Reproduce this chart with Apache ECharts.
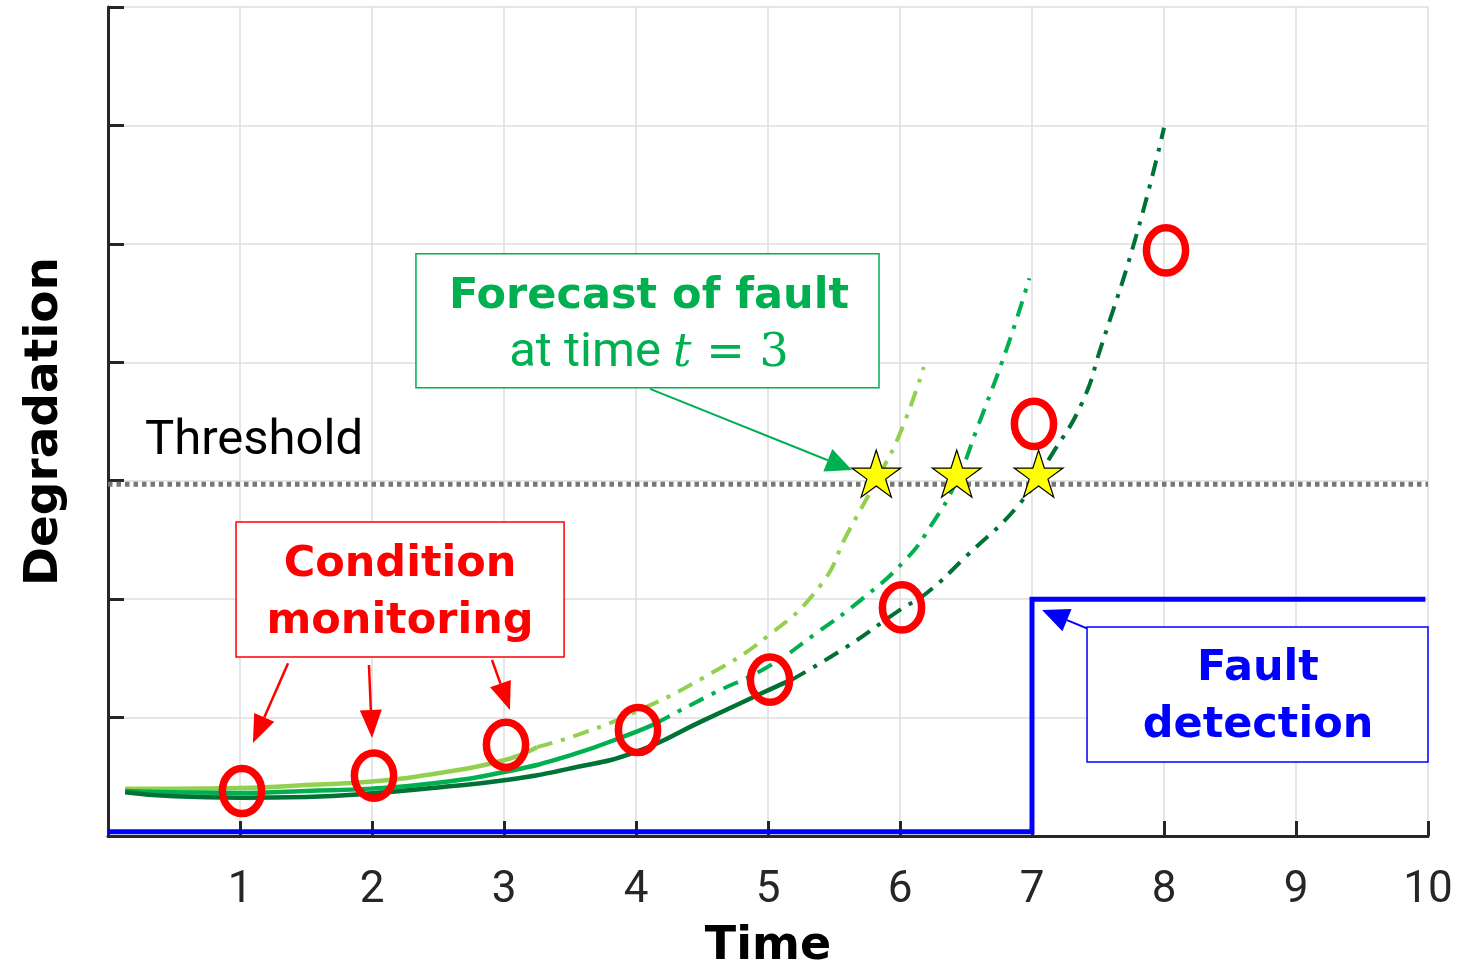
<!DOCTYPE html>
<html>
<head>
<meta charset="utf-8">
<script src="https://cdn.jsdelivr.net/npm/echarts@6/dist/echarts.min.js"></script>
<style>
  html, body { margin: 0; padding: 0; background: #ffffff; }
  #chart { width: 1463px; height: 964px; }
</style>
</head>
<body>
<div id="chart"></div>
<script>
// ---- axis ticks ----
const timeTicks = [0, 1, 2, 3, 4, 5, 6, 7, 8, 9, 10];
const timeTickLabels = ['', '1', '2', '3', '4', '5', '6', '7', '8', '9', '10'];
const levelRange = [0, 7];

// ---- condition monitoring samples ----
const sampleTime = [1, 2, 3, 4, 5, 6, 7, 8];
const sampleLevel = [0.38, 0.51, 0.77, 0.895, 1.32, 1.93, 3.48, 4.945];

// ---- degradation model fitted up to t = 3 (solid) and its forecast (dash-dot) ----
const fitT3Time = [0.13, 0.5, 1, 1.5, 2, 2.5, 3, 3.25];
const fitT3Level = [0.40, 0.40, 0.405, 0.43, 0.46, 0.53, 0.64, 0.75];
const forecastT3Time = [3.25, 3.6, 4, 4.5, 5, 5.4, 5.6, 5.82, 6.0, 6.18];
const forecastT3Level = [0.75, 0.87, 1.05, 1.33, 1.69, 2.12, 2.55, 3.0, 3.4, 3.96];

// ---- model fitted up to t = 4 ----
const fitT4Time = [0.13, 0.5, 1, 1.5, 2, 2.5, 3, 3.5, 4, 4.15];
const fitT4Level = [0.38, 0.37, 0.363, 0.38, 0.40, 0.45, 0.54, 0.68, 0.88, 0.95];
const forecastT4Time = [4.15, 4.56, 5, 5.35, 5.7, 6.04, 6.24, 6.43, 6.58, 6.81, 6.98];
const forecastT4Level = [0.95, 1.19, 1.43, 1.7, 1.99, 2.33, 2.63, 3.0, 3.43, 4.12, 4.71];

// ---- model fitted up to t = 5 ----
const fitT5Time = [0.13, 0.5, 1, 1.5, 2, 2.5, 3, 3.5, 4, 4.5, 5, 5.18];
const fitT5Level = [0.37, 0.335, 0.323, 0.33, 0.36, 0.41, 0.47, 0.57, 0.71, 0.97, 1.23, 1.32];
const forecastT5Time = [5.18, 5.6, 6.0, 6.2, 6.5, 6.91, 7.15, 7.38, 7.52, 7.79, 8.0];
const forecastT5Level = [1.32, 1.6, 1.91, 2.05, 2.36, 2.81, 3.22, 3.66, 4.12, 5.07, 5.98];

// ---- predicted threshold crossings ----
const crossingTime = [5.82, 6.43, 7.05];
const crossingLevel = [3.06, 3.06, 3.06];

// ---- threshold and fault detection signal ----
const thresholdTime = [0, 10];
const thresholdLevel = [2.97, 2.97];
const faultTime = [0, 7, 7, 9.98];
const faultLevel = [0.036, 0.036, 2, 2];

const zip = (xs, ys) => xs.map((x, i) => [x, ys[i]]);

const AXIS_COLOR = '#262626';
const GRID_COLOR = '#dedede';
const LIGHT = '#92d050', MID = '#00b050', DARK = '#007236';
const DASH_DOT = [16, 9, 4, 9];

// five-pointed star used for the crossing markers
function starPath() {
  const pts = [];
  for (let i = 0; i < 10; i++) {
    const r = i % 2 ? 0.382 : 1;
    const a = -Math.PI / 2 + i * Math.PI / 5;
    pts.push((r * Math.cos(a)).toFixed(4) + ' ' + (r * Math.sin(a)).toFixed(4));
  }
  return 'path://M' + pts.join(' L') + ' Z';
}

function curve(name, xs, ys, color, dashed, z) {
  return {
    name, type: 'line', data: zip(xs, ys), symbol: 'none', smooth: 0.5, z,
    lineStyle: { color, width: dashed ? 4 : 4.5, type: dashed ? DASH_DOT : 'solid', cap: 'butt' },
    emphasis: { disabled: true }
  };
}

// hollow red ellipse for each monitoring sample
function renderSample(params, api) {
  const p = api.coord([api.value(0), api.value(1)]);
  return {
    type: 'ellipse',
    shape: { cx: p[0] + 2, cy: p[1], rx: 19.6, ry: 22.6 },
    style: { fill: 'none', stroke: '#ff0000', lineWidth: 7.5 }
  };
}

const option = {
  animation: false,
  backgroundColor: '#ffffff',
  grid: { left: 108, right: 35, top: 7, bottom: 128, containLabel: false, outerBoundsMode: 'none' },
  xAxis: {
    type: 'value', min: timeTicks[0], max: timeTicks[timeTicks.length - 1], interval: 1,
    name: 'Time', nameLocation: 'middle', nameGap: 88,
    nameTextStyle: { fontFamily: 'DejaVu Sans', fontWeight: 'bold', fontSize: 46, color: '#000000' },
    axisLine: { show: true, onZero: false, lineStyle: { color: AXIS_COLOR, width: 3 } },
    axisTick: { show: true, inside: true, length: 15, lineStyle: { color: AXIS_COLOR, width: 3 } },
    axisLabel: {
      margin: 33, fontFamily: 'Roboto', fontSize: 44, color: AXIS_COLOR,
      formatter: v => { const i = timeTicks.indexOf(Math.round(v)); return i >= 0 ? timeTickLabels[i] : ''; }
    },
    splitLine: { show: true, lineStyle: { color: GRID_COLOR, width: 1.5 } }
  },
  yAxis: {
    type: 'value', min: levelRange[0], max: levelRange[1], interval: 1,
    name: 'Degradation', nameLocation: 'middle', nameGap: 40,
    nameTextStyle: { fontFamily: 'DejaVu Sans', fontWeight: 'bold', fontSize: 47, color: '#000000' },
    axisLine: { show: true, onZero: false, lineStyle: { color: AXIS_COLOR, width: 3 } },
    axisTick: { show: true, inside: true, length: 16, lineStyle: { color: AXIS_COLOR, width: 3 } },
    axisLabel: { show: false },
    splitLine: { show: true, lineStyle: { color: GRID_COLOR, width: 1.5 } }
  },
  series: [
    {
      name: 'Threshold', type: 'line', data: zip(thresholdTime, thresholdLevel), symbol: 'none', z: 2,
      lineStyle: { color: '#777777', width: 5, type: [4.5, 4], cap: 'butt' }, emphasis: { disabled: true }
    },
    {
      name: 'Fault detection', type: 'line', data: zip(faultTime, faultLevel), symbol: 'none', z: 3,
      lineStyle: { color: '#0000ff', width: 5, join: 'miter' }, emphasis: { disabled: true }
    },
    curve('Fit t=3', fitT3Time, fitT3Level, LIGHT, false, 4),
    curve('Forecast t=3', forecastT3Time, forecastT3Level, LIGHT, true, 4),
    curve('Fit t=4', fitT4Time, fitT4Level, MID, false, 5),
    curve('Forecast t=4', forecastT4Time, forecastT4Level, MID, true, 5),
    curve('Fit t=5', fitT5Time, fitT5Level, DARK, false, 6),
    curve('Forecast t=5', forecastT5Time, forecastT5Level, DARK, true, 6),
    {
      name: 'Condition monitoring', type: 'custom', data: zip(sampleTime, sampleLevel), z: 8,
      encode: { x: 0, y: 1 }, renderItem: renderSample, emphasis: { disabled: true }
    },
    {
      name: 'Threshold crossing', type: 'scatter', data: zip(crossingTime, crossingLevel), z: 9,
      symbol: starPath(), symbolSize: [49, 47],
      itemStyle: { color: '#ffff00', borderColor: '#000000', borderWidth: 1.2, opacity: 1 },
      emphasis: { disabled: true }
    }
  ]
};

const chart = echarts.init(document.getElementById('chart'), null, { renderer: 'canvas' });
chart.setOption(option);

// ---- annotations, placed in data units ----
const px = (x, y) => chart.convertToPixel({ gridIndex: 0 }, [x, y]);

function box(x0, y0, x1, y1, color) {
  const a = px(x0, y1), b = px(x1, y0);
  return {
    type: 'rect', z: 20,
    shape: { x: a[0], y: a[1], width: b[0] - a[0], height: b[1] - a[1] },
    style: { fill: '#ffffff', stroke: color, lineWidth: 1.5 }
  };
}

function label(x, y, text, font, color, align, rich) {
  const p = px(x, y);
  const style = {
    text, font, fill: color,
    align: align || 'center', textAlign: align || 'center',
    verticalAlign: 'middle', textVerticalAlign: 'middle'
  };
  if (rich) style.rich = rich;
  return { type: 'text', z: 21, x: p[0], y: p[1], style };
}

function arrow(from, to, color, lineWidth, headLen, headWidth) {
  const p0 = px(from[0], from[1]), p1 = px(to[0], to[1]);
  const dx = p1[0] - p0[0], dy = p1[1] - p0[1];
  const L = Math.hypot(dx, dy), ux = dx / L, uy = dy / L;
  const bx = p1[0] - ux * headLen, by = p1[1] - uy * headLen;
  const nx = -uy * headWidth / 2, ny = ux * headWidth / 2;
  return [
    { type: 'line', z: 20, shape: { x1: p0[0], y1: p0[1], x2: bx, y2: by },
      style: { stroke: color, lineWidth } },
    { type: 'polygon', z: 20, shape: { points: [[p1[0], p1[1]], [bx + nx, by + ny], [bx - nx, by - ny]] },
      style: { fill: color } }
  ];
}

const RED = '#ff0000', BLUE = '#0000ff';
const BOLD = 'bold 43px "DejaVu Sans"';

const graphics = [
  // threshold caption
  label(0.28, 3.33, 'Threshold', '49px Roboto', '#000000', 'left'),

  // forecast note
  ...arrow([4.106, 3.775], [5.636, 3.091], MID, 2, 26, 24),
  box(2.333, 3.784, 5.841, 4.916, MID),
  label(4.098, 4.552, 'Forecast of fault', BOLD, MID),
  label(4.098, 4.071, '{a|at time }{m|t}{b| = 3}', '49px Roboto', MID, 'center', {
    a: { font: '49px Roboto', fill: MID },
    m: { font: 'italic 46px "DejaVu Serif"', fill: MID },
    b: { font: '46px "DejaVu Serif"', fill: MID }
  }),

  // condition monitoring note
  ...arrow([1.364, 1.458], [1.098, 0.785], RED, 2.5, 28, 22),
  ...arrow([1.977, 1.444], [2.0, 0.828], RED, 2.5, 28, 22),
  ...arrow([2.909, 1.486], [3.045, 1.064], RED, 2.5, 28, 22),
  box(0.970, 1.512, 3.455, 2.652, RED),
  label(2.212, 2.289, 'Condition', BOLD, RED),
  label(2.212, 1.807, 'monitoring', BOLD, RED),

  // fault detection note
  ...arrow([7.63, 1.655], [7.076, 1.909], BLUE, 2, 27, 24),
  box(7.417, 0.625, 10.0, 1.765, BLUE),
  label(8.712, 1.410, 'Fault', BOLD, BLUE),
  label(8.712, 0.929, 'detection', BOLD, BLUE)
];

chart.setOption({ graphic: { elements: graphics } });
</script>
</body>
</html>
